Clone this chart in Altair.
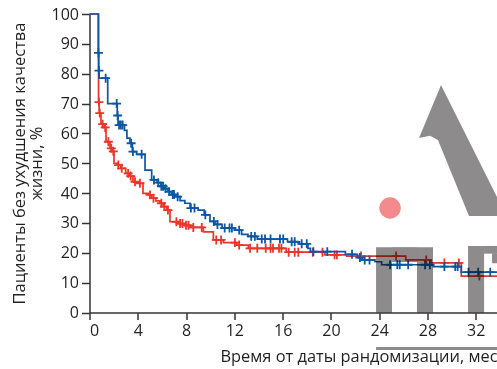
import altair as alt
import numpy as np
import pandas as pd

# ---- Kaplan-Meier data (months, % without deterioration) ----
X_END = 33.76

blue_t = [0, 0.73, 0.76, 0.80, 1.51, 2.30, 2.36, 2.90, 3.10, 3.35, 3.55, 3.90, 4.60,
          5.15, 5.60, 5.90, 6.20, 6.50, 6.80, 7.10, 7.50, 7.90, 8.33, 9.00, 9.50,
          9.98, 10.40, 10.98, 12.00, 12.60, 13.13, 13.90, 16.40, 17.40, 18.10,
          18.30, 21.20, 22.20, 22.60, 23.65, 24.20, 28.50, 30.80]
blue_s = [100, 87, 81, 78.5, 70, 66, 62.8, 61, 58.4, 56.7, 53.9, 53.0, 47.7,
          44.4, 43.5, 42.3, 41.5, 40.5, 39.5, 38.8, 37.5, 36.6, 35.0, 34.3, 32.7,
          30.5, 29.5, 28.3, 27.6, 26.2, 25.5, 24.6, 23.7, 23.0, 21.5,
          20.4, 19.5, 18.4, 17.6, 17.0, 16.0, 15.4, 13.5]
blue_cens = [0.74, 0.78, 1.34, 2.25, 2.33, 2.45, 2.60, 2.75, 3.45, 3.60, 4.32, 5.34,
             5.70, 5.95, 6.10, 6.30, 6.60, 6.90, 7.00, 7.30, 8.40, 8.70, 9.60, 10.30,
             10.60, 11.20, 11.60, 11.80, 12.40, 13.40, 13.70, 14.27, 14.54, 15.00,
             15.78, 16.05, 16.75, 17.00, 17.58, 18.00, 18.55, 19.70, 21.75, 22.40,
             22.80, 23.20, 24.90, 25.50, 25.70, 26.40, 27.80, 28.20, 29.40, 30.30,
             30.50, 31.40, 32.20, 33.20]

red_t = [0, 0.75, 0.80, 0.95, 1.20, 1.37, 1.70, 1.90, 2.03, 2.30, 2.60, 3.00, 3.30,
         3.60, 4.10, 4.43, 4.90, 5.15, 5.50, 5.84, 6.10, 6.40, 6.67, 7.40, 7.90,
         8.40, 9.43, 10.26, 11.09, 12.20, 13.16, 16.30, 19.50, 21.30, 26.20,
         28.30, 30.80]
red_s = [100, 70.5, 66.8, 63.1, 62.0, 57.2, 55.0, 54.0, 50.0, 49.4, 48.3, 46.6, 45.7,
         43.8, 43.3, 39.9, 39.4, 38.3, 37.4, 36.6, 35.5, 34.3, 30.4, 29.8, 29.2,
         28.5, 27.0, 24.3, 23.4, 22.6, 21.5, 20.2, 19.3, 18.9, 17.6,
         16.6, 12.2]
red_cens = [0.78, 0.85, 1.09, 1.30, 1.56, 1.80, 1.97, 2.39, 2.67, 3.20, 3.41, 3.77,
            4.18, 5.01, 5.30, 5.95, 6.20, 6.50, 7.20, 7.50, 7.70, 8.00, 8.20, 8.60,
            9.30, 10.50, 10.90, 12.05, 12.40, 13.30, 13.90, 14.60, 15.00, 15.20,
            15.70, 15.90, 16.50, 17.00, 17.30, 18.50, 19.30, 20.30, 20.50, 22.50,
            25.40, 27.90, 29.40, 30.60, 32.30]

x_ticks = list(range(0, 33, 4))
y_ticks = list(range(0, 101, 10))

# ---- background logo (in axis units) ----
logo_wedge_t = [27.30, 28.21, 28.87, 29.12, 31.44, 33.76]
logo_wedge_top = [58.5, 67.35, 73.7, 76.2, 57.45, 38.7]
logo_wedge_bot = [58.5, 59.2, 57.8, 55.3, 32.3, 32.3]
logo_blocks = [  # t0, t1, s0, s1
    (23.74, 25.06, 0.0, 21.9),
    (25.06, 27.13, 16.9, 21.9),
    (27.13, 28.46, 0.0, 21.9),
    (31.36, 32.69, 0.0, 22.3),
    (32.69, X_END, 19.7, 22.3),
    (33.35, X_END, 16.5, 19.7),
]
logo_dot = (24.9, 35.0)
logo_underline = (23.74, X_END, -12.1)

BLUE = "#0b57a4"
RED = "#ec3428"
GRAY = "#8d8b8c"
INK = "#231f20"
FONT = "Open Sans"


def km_frame(ts, ss):
    return pd.DataFrame({"t": list(ts) + [X_END], "s": list(ss) + [ss[-1]]})


def censor_frame(ts, ss, ct):
    idx = np.searchsorted(np.array(ts), np.array(ct), side="right") - 1
    return pd.DataFrame({"t": ct, "s": np.array(ss)[idx]})


xscale = alt.Scale(domain=[0, X_END], nice=False, zero=False)
yscale = alt.Scale(domain=[0, 100], nice=False, zero=False)

xaxis = alt.Axis(
    values=x_ticks, grid=False, title="Время от даты рандомизации, мес",
    labelFont=FONT, labelFontSize=16, labelColor=INK, labelPadding=3,
    tickSize=7, tickColor="#333333", tickWidth=1.5,
    domainColor="#333333", domainWidth=1.5,
    titleFont=FONT, titleFontSize=16.4, titleFontWeight="normal", titleColor=INK,
    titleAnchor="end", titleAlign="right", titleBaseline="alphabetic",
    titleX=407.5, titleY=49,
)
yaxis = alt.Axis(
    values=y_ticks, grid=False,
    title=["Пациенты без ухудшения качества", "жизни, %"],
    labelFont=FONT, labelFontSize=16, labelColor=INK, labelPadding=3,
    tickSize=8, tickColor="#333333", tickWidth=1.5,
    domainColor="#333333", domainWidth=1.5,
    titleFont=FONT, titleFontSize=16.5, titleFontWeight="normal", titleColor=INK,
    titleLineHeight=17, titleAngle=-90, titleAlign="center", titleBaseline="top",
    titleX=-78, titleY=149,
)


def X(field):
    return alt.X(field, type="quantitative", scale=xscale, axis=xaxis)


def Y(field):
    return alt.Y(field, type="quantitative", scale=yscale, axis=yaxis)


plus = "M-1,0L1,0M0,-1L0,1"


def arm_layers(ts, ss, cens, color):
    line = alt.Chart(km_frame(ts, ss)).mark_line(
        interpolate="step-after", color=color, strokeWidth=1.7
    ).encode(x=X("t"), y=Y("s"))
    marks = alt.Chart(censor_frame(ts, ss, cens)).mark_point(
        shape=plus, size=80, filled=False, color=color, strokeWidth=1.8, opacity=1
    ).encode(x=X("t"), y=Y("s"))
    return [line, marks]


wedge = alt.Chart(pd.DataFrame({
    "t": logo_wedge_t, "top": logo_wedge_top, "bot": logo_wedge_bot
})).mark_area(color=GRAY, opacity=1, blend="multiply").encode(
    x=X("t"), y=Y("top"), y2="bot"
)

blocks = alt.Chart(pd.DataFrame(logo_blocks, columns=["t0", "t1", "s0", "s1"])).mark_rect(
    color=GRAY, opacity=1, blend="multiply"
).encode(x=X("t0"), x2="t1", y=Y("s0"), y2="s1")

dot = alt.Chart(pd.DataFrame({"t": [logo_dot[0]], "s": [logo_dot[1]]})).mark_circle(
    color="#f28a8e", size=460, opacity=1
).encode(x=X("t"), y=Y("s"))

underline = alt.Chart(pd.DataFrame({
    "t0": [logo_underline[0]], "t1": [logo_underline[1]], "s": [logo_underline[2]]
})).mark_rule(color=GRAY, strokeWidth=3).encode(x=X("t0"), x2="t1", y=Y("s"))

layers = (
    arm_layers(red_t, red_s, red_cens, RED)
    + arm_layers(blue_t, blue_s, blue_cens, BLUE)
    + [wedge, blocks, dot, underline]
)

chart = alt.layer(*layers).properties(
    width=407.5, height=298.5,
    autosize=alt.AutoSizeParams(type="none"),
    padding={"left": 89.5, "top": 14, "right": 0, "bottom": 56.5},
    background="white",
).configure_view(stroke=None)

chart.save("out.html", embed_options={"renderer": "svg", "actions": False})
